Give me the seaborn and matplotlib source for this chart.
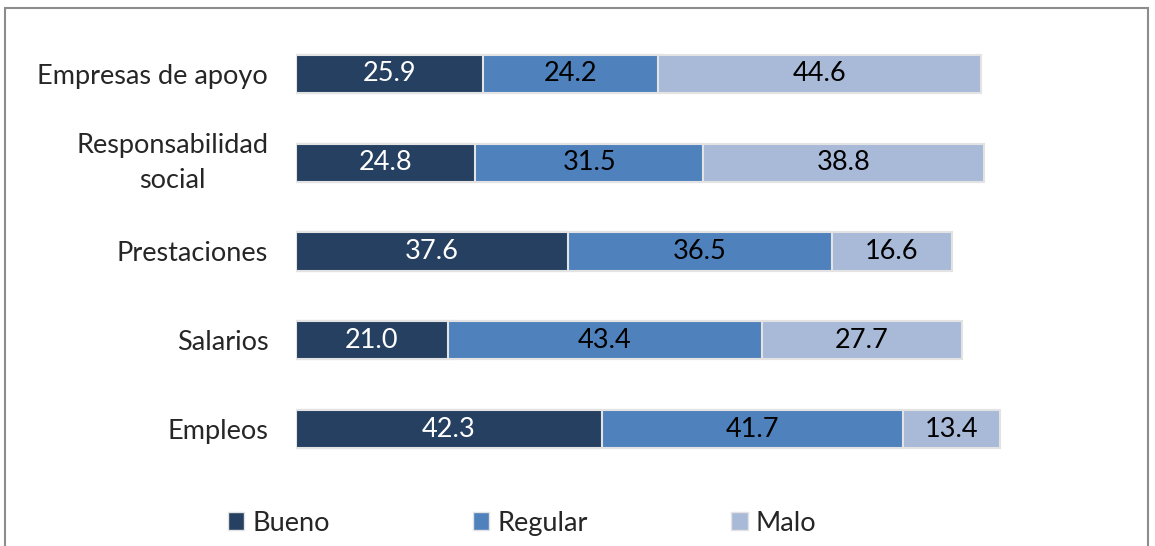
import pandas as pd
import seaborn as sns
import matplotlib.pyplot as plt
from matplotlib.patches import Patch, Rectangle

categories = ['Empresas de apoyo', 'Responsabilidad\nsocial', 'Prestaciones', 'Salarios', 'Empleos']
bueno = [25.9, 24.8, 37.6, 21.0, 42.3]
regular = [24.2, 31.5, 36.5, 43.4, 41.7]
malo = [44.6, 38.8, 16.6, 27.7, 13.4]
series_names = ['Bueno', 'Regular', 'Malo']
colors = ['#254061', '#4f81bd', '#a9b9d8']

sns.set_style('white')
plt.rcParams['font.family'] = ['Lato', 'DejaVu Sans']

df = pd.DataFrame(dict(cat=categories, Bueno=bueno, Regular=regular, Malo=malo))
df['c1'] = df['Bueno']
df['c2'] = df['Bueno'] + df['Regular']
df['c3'] = df['c2'] + df['Malo']

fig = plt.figure(figsize=(11.55, 5.46), dpi=100)
ax = fig.add_axes([296 / 1155, 0.1328, 723 / 1155, 0.8132])

# draw cumulative totals, widest first, so the segments stack
for col, color in zip(['c3', 'c2', 'c1'], colors[::-1]):
  sns.barplot(data=df, x=col, y='cat', color=color, width=0.43, orient='h',
              edgecolor='#e3e3e3', linewidth=1.5, saturation=1, ax=ax)

for i, row in df.iterrows():
  starts = [0, row['c1'], row['c2']]
  vals = [row['Bueno'], row['Regular'], row['Malo']]
  for j, (s, v) in enumerate(zip(starts, vals)):
    ax.text(s + v / 2, i, '{:.1f}'.format(v), ha='center', va='center',
            fontsize=19.5, color='white' if j == 0 else 'black')

ax.set_xlim(0, 100)
ax.set_ylim(4.5, -0.5)
ax.set_xlabel('')
ax.set_ylabel('')
ax.set_xticks([])
ax.tick_params(axis='y', length=0, pad=20, labelsize=19.5)
for lab in ax.get_yticklabels():
  lab.set_multialignment('center')
  lab.set_linespacing(1.5)
  if '\n' in lab.get_text():
    lab.set_va('center')
sns.despine(ax=ax, left=True, bottom=True)

handles = [Patch(facecolor=c, edgecolor='#e3e3e3', label=n) for c, n in zip(colors, series_names)]
fig.legend(handles=handles, loc='center', bbox_to_anchor=(0.452, 0.042), ncol=3,
           frameon=False, fontsize=19.5, handlelength=0.6, handleheight=0.6,
           handletextpad=0.3, columnspacing=5.3)

fig.patches.append(Rectangle((5 / 1155, -0.05), 1143 / 1155, 1.05 - 8 / 546,
                             transform=fig.transFigure, fill=False,
                             edgecolor='#8c8c8c', linewidth=1.5))

plt.savefig('out.png', dpi=100)
